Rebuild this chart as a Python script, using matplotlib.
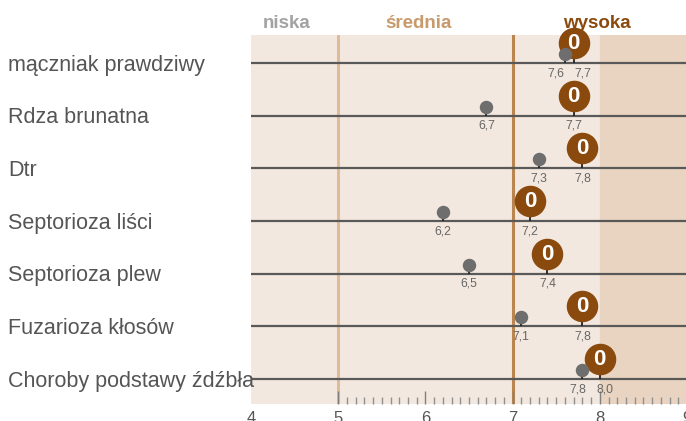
import numpy as np
import matplotlib.pyplot as plt
from matplotlib import font_manager

# Dane
choroby = ['mączniak prawdziwy', 'Rdza brunatna', 'Dtr', 'Septorioza liści',
           'Septorioza plew', 'Fuzarioza kłosów', 'Choroby podstawy źdźbła']
ocena_szara = [7.6, 6.7, 7.3, 6.2, 6.5, 7.1, 7.8]
ocena_brazowa = [7.7, 7.7, 7.8, 7.2, 7.4, 7.8, 8.0]
skala = [4, 5, 6, 7, 8, 9]
poziomy = ['niska', 'średnia', 'wysoka']
poziomy_x = [4.41, 5.92, 7.97]

names = {f.name for f in font_manager.fontManager.ttflist}
narrow = 'Liberation Sans Narrow' if 'Liberation Sans Narrow' in names else 'Liberation Sans'

fig = plt.figure(figsize=(6.86, 4.21), dpi=100)
ax = fig.add_axes([251 / 686, 17 / 421, 436 / 686, 369 / 421])
ax.set_xlim(4, 9)
ax.set_ylim(6.474, -0.532)
px = 1 / 52.67       # jeden piksel w jednostkach osi y
pxx = 5 / 436        # jeden piksel w jednostkach osi x

ax.set_facecolor('#f3e8df')
ax.axvspan(8, 9, color='#e9d4c1', zorder=0)
ax.axvline(5, color='#dfbc98', lw=2.2, zorder=1)
ax.axvline(7, color='#bb8550', lw=2.2, zorder=1)

rows = np.arange(len(choroby))
ax.hlines(rows, 4, 9, color='#595959', lw=1.6, zorder=2)

# brązowe kółka
yb = rows - 20 * px
ax.vlines(ocena_brazowa, yb, rows, color='#222222', lw=1.3, zorder=3)
ax.scatter(ocena_brazowa, yb, s=470, color='#8a4a0e', zorder=4, clip_on=False)
for x, y in zip(ocena_brazowa, yb):
    ax.text(x, y + 0.5 * px, '0', color='white', fontsize=16, fontweight='bold',
            family='Liberation Sans', ha='center', va='center', zorder=5)

# szare punkty
yg = rows - 9 * px
ax.vlines(ocena_szara, yg, rows, color='#222222', lw=1.3, zorder=6)
ax.scatter(ocena_szara, yg, s=75, color='#6e6e6e', zorder=7, clip_on=False)

# etykiety wartości - rozsunięte, gdy są zbyt blisko
min_odst = 27 * pxx
for i in rows:
    g, b = ocena_szara[i], ocena_brazowa[i]
    xg, xb = g, b
    if abs(b - g) < min_odst:
        mid = (g + b) / 2
        xg, xb = (mid - min_odst / 2, mid + min_odst / 2) if g <= b else (mid + min_odst / 2, mid - min_odst / 2)
    for v, xt in ((g, xg), (b, xb)):
        ax.text(xt, i + 10 * px, f'{v:.1f}'.replace('.', ','), color='#666666',
                fontsize=8.8, family='Liberation Sans', ha='center', va='center', zorder=8)
    ax.text(4 - 243 * pxx, i + 2 * px, choroby[i], color='#555555', fontsize=15.5,
            family='Liberation Sans', ha='left', va='center', clip_on=False)

kolory = ['#a3a3a3', '#c89a6c', '#8a4a0e']
for t, x, c in zip(poziomy, poziomy_x, kolory):
    ax.text(x, -0.532 - 12 * px, t, color=c, fontsize=13.5, fontweight='bold',
            family=narrow, ha='center', va='center', clip_on=False)

for s in ax.spines.values():
    s.set_visible(False)
ax.set_yticks([])
ax.set_xticks(skala)
ax.set_xticklabels([str(s) for s in skala], fontsize=12, color='#555555',
                   family='Liberation Sans')
ax.set_xticks([m for m in np.arange(5.1, 9.0, 0.1) if abs(m - round(m)) > 0.01], minor=True)
ax.tick_params(axis='x', which='major', direction='in', length=9.5, width=1,
               color='#808080', pad=5)
ax.tick_params(axis='x', which='minor', direction='in', length=5, width=1,
               color='#909090')
ax.xaxis.get_major_ticks()[0].tick1line.set_visible(False)

fig.savefig('out.png', dpi=100, facecolor='white')
